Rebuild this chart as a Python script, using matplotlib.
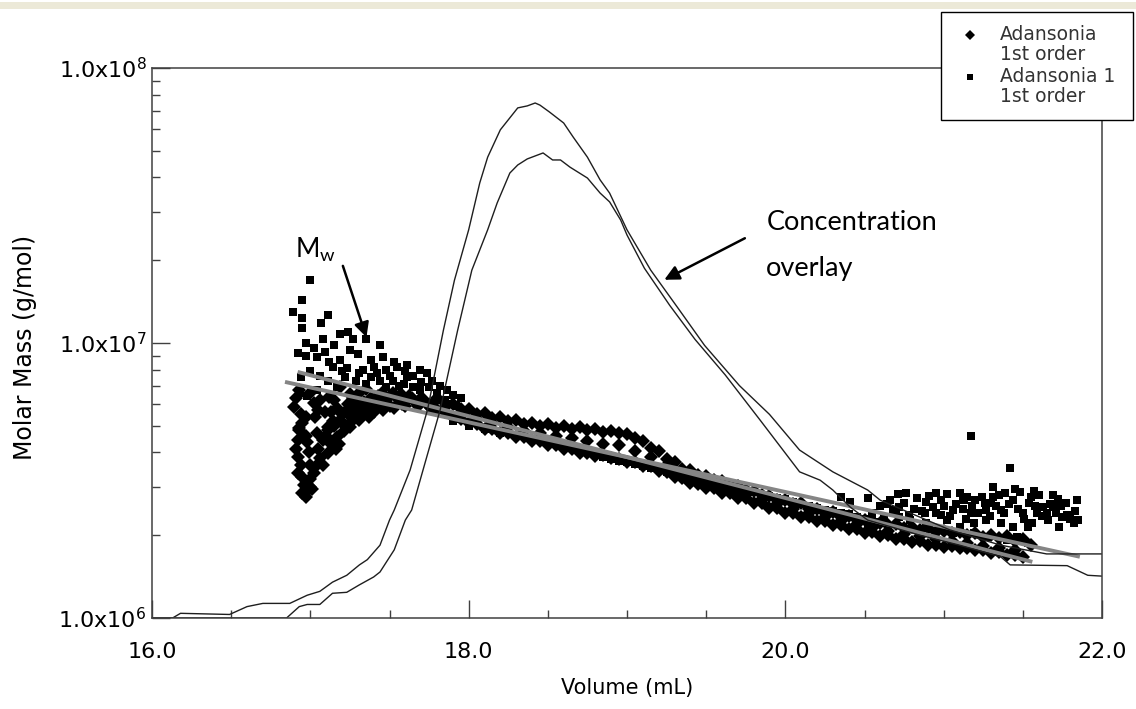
import matplotlib
matplotlib.use('Agg')
import matplotlib.pyplot as plt
from matplotlib.lines import Line2D
from matplotlib.patches import Rectangle
from matplotlib.ticker import LogLocator, NullFormatter, MultipleLocator

plt.rcParams['font.family'] = 'DejaVu Sans'
plt.rcParams['mathtext.default'] = 'regular'

# ---- data: molar mass values are in units of 1e6 g/mol ----
# Adansonia (diamonds), early scattered slices
dia_vol_early = [16.90, 16.93, 16.92, 16.98, 16.92, 16.92, 16.95, 16.97, 17.02, 17.06,
                 17.11, 17.08, 17.11, 17.17, 17.19, 17.23, 17.27, 17.25, 17.31, 17.36,
                 17.40, 17.46, 17.02, 17.06, 17.12, 17.00, 16.93, 17.19, 17.31, 17.44,
                 17.52, 17.61, 16.95, 17.00, 17.11, 17.23, 17.31, 16.93, 17.03, 17.15,
                 17.20, 17.28, 17.30, 17.35, 17.38, 17.42, 17.48, 17.50, 17.55, 17.58,
                 17.62, 17.66, 17.70, 17.74, 17.78, 17.00, 16.98, 17.04, 17.13, 17.16,
                 17.21, 17.26, 17.33, 17.40, 16.91, 16.94, 16.95, 16.97, 16.99, 17.00,
                 17.01, 16.96, 16.94, 16.91, 17.05, 17.08, 17.09, 17.14, 17.18, 17.22,
                 17.24, 17.29, 17.34, 17.37, 17.43, 17.47, 17.53, 17.57, 17.60, 17.64,
                 17.68, 17.72, 17.76, 16.97, 17.04, 17.10, 17.13, 17.17, 17.27, 17.45,
                 17.35, 17.25, 17.15, 17.05]
dia_mw_early = [5.85, 4.90, 4.44, 4.37, 3.85, 3.37, 3.26, 2.75, 3.37, 3.82,
                3.98, 4.44, 4.95, 4.55, 5.25, 5.57, 5.85, 4.95, 5.25, 5.85,
                6.20, 5.71, 6.05, 6.20, 6.35, 6.60, 6.75, 6.90, 6.60, 6.35,
                6.60, 6.20, 2.85, 3.00, 4.83, 5.71, 6.05, 4.83, 5.38, 5.00,
                5.50, 5.40, 5.90, 5.60, 6.30, 6.00, 6.20, 5.90, 6.30, 6.00,
                6.40, 6.10, 6.30, 6.00, 6.10, 3.20, 2.90, 3.60, 4.30, 4.10,
                4.80, 5.20, 5.50, 5.60, 6.30, 5.50, 5.10, 4.60, 4.00, 3.60,
                2.95, 3.05, 3.60, 4.10, 4.10, 3.60, 5.60, 5.20, 4.30, 5.00,
                6.00, 5.70, 6.10, 5.40, 6.40, 6.00, 5.80, 6.50, 5.90, 6.30,
                5.90, 6.20, 5.80, 5.40, 4.70, 4.60, 5.60, 5.80, 6.30, 6.60,
                6.80, 6.50, 6.20, 5.70]

# Adansonia, main band (upper and lower edge, middle)
dia_band_vol = [17.80, 17.85, 17.90, 17.95, 18.00, 18.05, 18.10, 18.15, 18.20, 18.25,
                18.30, 18.35, 18.40, 18.45, 18.50, 18.55, 18.60, 18.65, 18.70, 18.75,
                18.80, 18.85, 18.90, 18.95, 19.00, 19.05, 19.10, 19.15, 19.20, 19.25,
                19.30, 19.35, 19.40, 19.45, 19.50, 19.55, 19.60, 19.65, 19.70, 19.75,
                19.80, 19.85, 19.90, 19.95, 20.00, 20.05, 20.10, 20.15, 20.20, 20.25,
                20.30, 20.35, 20.40, 20.45, 20.50, 20.55, 20.60, 20.65, 20.70, 20.75,
                20.80, 20.85, 20.90, 20.95, 21.00, 21.05, 21.10, 21.15, 21.20, 21.25,
                21.30, 21.35, 21.40, 21.45, 21.50, 21.55]
dia_band_upper = [6.31, 6.05, 5.98, 5.75, 5.74, 5.52, 5.56, 5.35, 5.38, 5.22,
                  5.26, 5.08, 5.12, 5.00, 5.07, 4.92, 4.99, 4.88, 4.95, 4.84,
                  4.87, 4.76, 4.79, 4.69, 4.65, 4.50, 4.40, 4.16, 4.04, 3.80,
                  3.69, 3.48, 3.45, 3.31, 3.29, 3.17, 3.15, 3.04, 3.02, 2.91,
                  2.90, 2.79, 2.78, 2.68, 2.69, 2.59, 2.61, 2.49, 2.50, 2.41,
                  2.42, 2.33, 2.34, 2.27, 2.28, 2.21, 2.22, 2.18, 2.19, 2.13,
                  2.15, 2.09, 2.12, 2.06, 2.08, 2.03, 2.05, 2.00, 2.03, 1.97,
                  2.00, 1.95, 1.98, 1.90, 1.94, 1.84]
dia_band_lower = [5.71, 5.60, 5.40, 5.31, 5.12, 5.06, 4.88, 4.86, 4.72, 4.70,
                  4.56, 4.54, 4.41, 4.39, 4.26, 4.25, 4.12, 4.10, 3.98, 3.97,
                  3.89, 3.90, 3.82, 3.80, 3.70, 3.68, 3.58, 3.56, 3.43, 3.39,
                  3.26, 3.22, 3.10, 3.07, 2.97, 2.96, 2.85, 2.84, 2.73, 2.72,
                  2.62, 2.62, 2.51, 2.51, 2.41, 2.41, 2.33, 2.33, 2.25, 2.25,
                  2.18, 2.18, 2.10, 2.11, 2.04, 2.05, 1.98, 2.00, 1.93, 1.94,
                  1.89, 1.90, 1.85, 1.85, 1.81, 1.83, 1.79, 1.80, 1.76, 1.76,
                  1.73, 1.74, 1.70, 1.70, 1.66]
dia_mid_vol = [17.85, 17.95, 18.05, 18.15, 18.25, 18.35, 18.45, 18.55, 18.65, 18.75,
               18.85, 18.95, 19.05, 19.15, 19.25, 19.35, 19.45, 19.55, 19.65, 19.75,
               19.85, 19.95, 20.05, 20.15, 20.25, 20.35, 20.45, 20.55, 20.65, 20.75,
               20.85, 20.95, 21.05, 21.15, 21.25, 21.35, 21.45]
dia_mid_mw = [5.85, 5.55, 5.30, 5.10, 4.95, 4.80, 4.70, 4.60, 4.50, 4.40,
              4.30, 4.25, 4.05, 3.85, 3.60, 3.35, 3.20, 3.07, 2.95, 2.82,
              2.70, 2.60, 2.50, 2.41, 2.33, 2.25, 2.19, 2.13, 2.08, 2.02,
              1.98, 1.94, 1.90, 1.87, 1.83, 1.80, 1.76]

# Adansonia 1 (squares), early scattered slices
sq_vol_early = [17.00, 16.95, 16.89, 16.95, 16.95, 17.11, 17.07, 17.19, 17.24, 17.08,
                17.25, 17.27, 17.35, 17.44, 16.92, 16.97, 17.04, 17.12, 17.19, 17.23,
                17.31, 17.38, 17.46, 17.40, 17.48, 17.55, 17.61, 16.93, 16.98, 17.04,
                17.11, 17.17, 17.22, 17.29, 17.38, 17.44, 17.52, 17.59, 17.65, 17.69,
                17.61, 17.69, 17.74, 17.77, 17.82, 17.86, 17.90, 17.95, 17.65, 17.57,
                16.97, 17.02, 17.09, 17.15, 17.30, 17.33, 17.42, 17.50, 17.53, 17.60,
                17.70, 17.75, 17.80, 17.85, 17.88, 17.92, 16.94, 17.00, 17.06, 17.14,
                17.20, 17.35, 17.48, 17.56]
sq_mw_early = [16.9, 14.3, 13.0, 12.3, 11.3, 12.6, 11.8, 10.8, 11.0, 10.3,
               9.4, 10.3, 10.3, 9.8, 9.2, 9.0, 8.9, 8.5, 8.7, 8.1,
               7.8, 8.7, 8.9, 8.2, 8.0, 8.2, 7.5, 6.6, 6.4, 6.75,
               7.3, 6.9, 7.5, 7.3, 7.5, 7.3, 7.3, 7.1, 6.9, 6.75,
               8.3, 8.0, 7.8, 7.3, 7.0, 6.75, 6.45, 6.3, 7.6, 6.45,
               10.0, 9.6, 9.3, 9.8, 9.1, 8.0, 7.8, 7.6, 8.5, 7.9,
               7.2, 6.9, 6.6, 6.2, 6.0, 5.9, 7.5, 7.9, 7.6, 8.2,
               7.9, 7.1, 6.9, 7.0]

# Adansonia 1, main band
sq_band_vol = [17.85, 17.90, 17.95, 18.00, 18.05, 18.10, 18.15, 18.20, 18.25, 18.30,
               18.35, 18.40, 18.45, 18.50, 18.55, 18.60, 18.65, 18.70, 18.75, 18.80,
               18.85, 18.90, 18.95, 19.00, 19.05, 19.10, 19.15, 19.20, 19.25, 19.30,
               19.35, 19.40, 19.45, 19.50, 19.55, 19.60, 19.65, 19.70, 19.75, 19.80,
               19.85, 19.90, 19.95, 20.00, 20.05, 20.10, 20.15, 20.20, 20.25, 20.30,
               20.35, 20.40, 20.45, 20.50, 20.55, 20.60]
sq_band_mw = [5.50, 5.20, 5.30, 5.00, 5.10, 4.85, 4.95, 4.70, 4.80, 4.60,
              4.65, 4.45, 4.50, 4.35, 4.30, 4.20, 4.15, 4.05, 4.00, 3.95,
              3.85, 3.80, 3.72, 3.70, 3.62, 3.58, 3.50, 3.48, 3.40, 3.35,
              3.30, 3.25, 3.20, 3.15, 3.08, 3.05, 2.98, 2.95, 2.90, 2.86,
              2.80, 2.78, 2.72, 2.70, 2.64, 2.60, 2.56, 2.52, 2.48, 2.45,
              2.40, 2.38, 2.33, 2.30, 2.26, 2.24]

# Adansonia 1, late scattered slices
sq_vol_late = [20.35, 20.41, 20.52, 20.66, 20.71, 20.68, 20.72, 20.83, 20.89, 20.88,
               20.98, 21.02, 20.98, 21.02, 21.06, 21.10, 21.13, 21.15, 21.20, 21.24,
               21.31, 21.31, 21.36, 21.39, 21.44, 21.48, 21.55, 21.60, 21.63, 21.69,
               21.69, 21.75, 21.78, 21.84, 21.85, 21.82, 21.73, 21.66, 21.56, 21.53,
               21.44, 21.36, 21.27, 21.19, 21.10, 21.06, 20.98, 20.89, 20.79, 20.72,
               21.46, 21.40, 21.53, 21.27, 21.19, 21.65, 21.59, 21.50, 21.27, 21.17,
               20.93, 20.62, 20.55, 20.52, 21.17, 21.42, 20.60, 20.64, 20.70, 20.75,
               20.78, 20.81, 20.86, 20.91, 20.95, 21.00, 21.04, 21.08, 21.12, 21.14,
               21.18, 21.22, 21.26, 21.29, 21.33, 21.35, 21.38, 21.41, 21.47, 21.51,
               21.54, 21.58, 21.62, 21.67, 21.71, 21.74, 21.77, 21.80, 21.83, 21.72,
               21.57, 21.45, 21.30, 21.12, 20.95, 20.76]
sq_mw_late = [2.75, 2.64, 2.73, 2.68, 2.82, 2.47, 2.53, 2.73, 2.64, 2.41,
              2.68, 2.82, 2.37, 2.27, 2.47, 2.84, 2.68, 2.75, 2.68, 2.75,
              2.99, 2.75, 2.47, 2.84, 2.68, 2.87, 2.75, 2.80, 2.53, 2.80,
              2.53, 2.33, 2.37, 2.68, 2.27, 2.21, 2.14, 2.27, 2.21, 2.14,
              2.14, 2.21, 2.27, 2.21, 2.14, 2.04, 2.09, 2.21, 2.27, 2.33,
              1.97, 1.92, 1.87, 1.97, 2.04, 2.41, 2.41, 2.41, 2.47, 2.41,
              2.53, 2.33, 2.41, 2.14, 4.60, 3.50, 2.55, 2.60, 2.40, 2.62,
              2.36, 2.50, 2.45, 2.78, 2.40, 2.55, 2.35, 2.60, 2.50, 2.30,
              2.55, 2.40, 2.62, 2.35, 2.55, 2.80, 2.40, 2.60, 2.50, 2.30,
              2.62, 2.55, 2.35, 2.60, 2.40, 2.55, 2.62, 2.30, 2.45, 2.70,
              2.90, 2.95, 2.62, 2.70, 2.85, 2.85]

# first order fits (end points)
fit1_vol = [16.84, 21.86]
fit1_mw = [7.22, 1.67]
fit2_vol = [16.92, 21.56]
fit2_mw = [7.85, 1.60]

# concentration overlays (scaled onto the molar mass axis)
concA_vol = [16.00, 16.13, 16.18, 16.49, 16.60, 16.70, 16.87, 16.98, 17.06, 17.14,
             17.23, 17.31, 17.36, 17.44, 17.50, 17.53, 17.63, 17.74, 17.84, 17.91,
             18.00, 18.07, 18.12, 18.20, 18.31, 18.37, 18.42, 18.45, 18.51, 18.60,
             18.66, 18.75, 18.83, 18.89, 19.00, 19.15, 19.33, 19.49, 19.71, 19.90,
             20.09, 20.30, 20.52, 20.60, 21.04, 21.36, 21.65, 22.00]
concA_mw = [1.00, 1.00, 1.04, 1.03, 1.10, 1.13, 1.13, 1.21, 1.25, 1.35,
            1.43, 1.56, 1.63, 1.84, 2.27, 2.47, 3.45, 5.71, 11.1, 16.9,
            25.8, 38.2, 47.4, 59.6, 71.6, 72.8, 74.6, 73.3, 69.2, 63.1,
            56.1, 47.4, 39.2, 35.1, 25.8, 18.4, 13.2, 9.8, 7.0, 5.5,
            4.08, 3.40, 2.92, 2.68, 2.09, 1.84, 1.71, 1.71]
concB_vol = [16.00, 16.85, 16.93, 16.98, 17.06, 17.14, 17.23, 17.31, 17.40, 17.44,
             17.53, 17.60, 17.64, 17.73, 17.82, 17.93, 18.02, 18.12, 18.18, 18.26,
             18.31, 18.37, 18.47, 18.53, 18.58, 18.64, 18.75, 18.83, 18.89, 18.96,
             19.00, 19.11, 19.27, 19.43, 19.62, 19.84, 20.09, 20.22, 20.30, 20.41,
             20.52, 20.85, 21.10, 21.36, 21.42, 21.78, 21.91, 22.00]
concB_mw = [1.00, 1.00, 1.10, 1.12, 1.12, 1.23, 1.24, 1.32, 1.41, 1.47,
            1.77, 2.27, 2.47, 3.76, 5.71, 11.1, 18.4, 25.8, 32.3, 41.5,
            44.4, 46.7, 49.1, 46.3, 46.3, 43.6, 39.8, 35.1, 32.6, 28.0,
            24.7, 18.7, 13.7, 10.3, 7.66, 5.25, 3.40, 3.17, 2.92, 2.53,
            2.27, 2.00, 1.84, 1.67, 1.56, 1.55, 1.43, 1.42]

E6 = 1e6

def scaled(vals):
    return [v * E6 for v in vals]

W, H = 1136, 709
fig = plt.figure(figsize=(W / 100, H / 100), dpi=100)
ax = fig.add_axes([152 / W, 1 - 618 / H, 950 / W, 550 / H])

dia_style = dict(marker='D', ms=7, color='black', mew=0, ls='none')
sq_style = dict(marker='s', ms=5.5, color='black', mew=0, ls='none')

ax.plot(dia_vol_early, scaled(dia_mw_early), **dia_style)
ax.plot(dia_band_vol, scaled(dia_band_upper), **dia_style)
ax.plot(dia_band_vol[:len(dia_band_lower)], scaled(dia_band_lower), **dia_style)
ax.plot(dia_mid_vol, scaled(dia_mid_mw), **dia_style)
ax.plot(sq_vol_early, scaled(sq_mw_early), **sq_style)
ax.plot(sq_band_vol, scaled(sq_band_mw), **sq_style)
ax.plot(sq_vol_late, scaled(sq_mw_late), **sq_style)

ax.plot(fit1_vol, scaled(fit1_mw), color='#858585', lw=2.8, solid_capstyle='butt')
ax.plot(fit2_vol, scaled(fit2_mw), color='#858585', lw=2.8, solid_capstyle='butt')

ax.plot(concA_vol, scaled(concA_mw), color='#1e1e1e', lw=1.0)
ax.plot(concB_vol, scaled(concB_mw), color='#1e1e1e', lw=1.0)

ax.set_yscale('log')
ax.set_xlim(16, 22)
ax.set_ylim(1e6, 1e8)

ax.set_xticks([16, 18, 20, 22])
ax.set_xticklabels(['16.0', '18.0', '20.0', '22.0'])
ax.xaxis.set_minor_locator(MultipleLocator(0.5))
ax.set_yticks([1e6, 1e7, 1e8])
ax.set_yticklabels([r'1.0x10$^{6}$', r'1.0x10$^{7}$', r'1.0x10$^{8}$'])
ax.yaxis.set_minor_locator(LogLocator(base=10, subs=range(2, 10)))
ax.yaxis.set_minor_formatter(NullFormatter())

ax.tick_params(which='both', direction='in', color='#404040', width=1.0,
               top=False, right=False, labelsize=16, labelcolor='black')
ax.tick_params(which='major', length=13)
ax.tick_params(which='minor', length=6)
ax.tick_params(axis='x', pad=17)
ax.tick_params(axis='y', pad=4)
for sp in ax.spines.values():
    sp.set_color('#404040')
    sp.set_linewidth(1.1)

ax.set_xlabel('Volume (mL)', fontsize=15)
ax.xaxis.set_label_coords(0.5, -0.127)
ax.xaxis.label.set_verticalalignment('center')
ax.set_ylabel('Molar Mass (g/mol)', fontsize=17)
ax.yaxis.set_label_coords(-0.1337, 0.4927)
ax.yaxis.label.set_verticalalignment('center')

# annotations
ax.text(17.03, 21.8e6, 'M$_w$', family='Lato', fontsize=19, ha='center', va='center')
ax.annotate('', xy=(17.36, 10.26e6), xytext=(17.20, 19.5e6),
            arrowprops=dict(arrowstyle='-|>', color='black', lw=1.8, mutation_scale=22))
ax.text(19.88, 27.5e6, 'Concentration', family='Lato', fontsize=19.5, ha='left', va='center')
ax.text(19.88, 18.7e6, 'overlay', family='Lato', fontsize=19.5, ha='left', va='center')
ax.annotate('', xy=(19.22, 16.8e6), xytext=(19.76, 24.3e6),
            arrowprops=dict(arrowstyle='-|>', color='black', lw=1.8, mutation_scale=22))

# legend box drawn at figure level
def fx(px):
    return px / W

def fy(py):
    return 1 - py / H

fig.add_artist(Rectangle((fx(941), fy(120)), fx(1133) - fx(941), fy(12) - fy(120),
                         transform=fig.transFigure, facecolor='white',
                         edgecolor='black', lw=1.0, zorder=5))
fig.add_artist(Line2D([fx(970)], [fy(35)], transform=fig.transFigure, marker='D',
                      ms=5, color='black', mew=0, ls='none', zorder=6))
fig.add_artist(Line2D([fx(970)], [fy(77)], transform=fig.transFigure, marker='s',
                      ms=4, color='black', mew=0, ls='none', zorder=6))
legend_text = ['Adansonia', '1st order', 'Adansonia 1', '1st order']
legend_y = [35, 55, 77, 97]
for t, py in zip(legend_text, legend_y):
    fig.text(fx(1000), fy(py), t, fontsize=13.5, color='#333333', ha='left',
             va='center', zorder=6)

# window title strip at the top
fig.add_artist(Rectangle((0, fy(9)), 1, fy(2) - fy(9), transform=fig.transFigure,
                         facecolor='#ECE9D8', edgecolor='none', zorder=5))

fig.savefig('out.png', dpi=100)
